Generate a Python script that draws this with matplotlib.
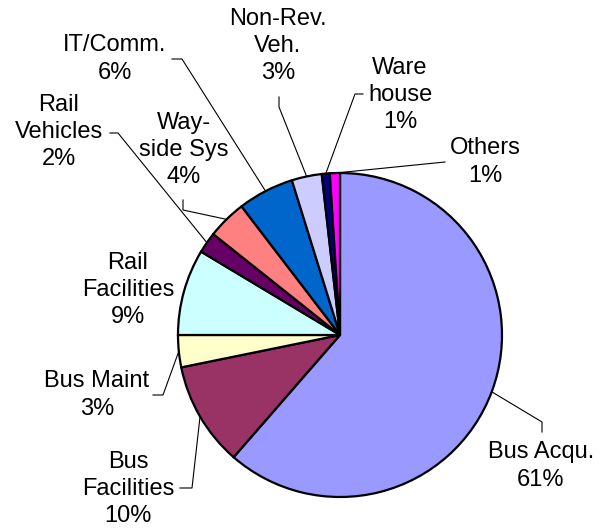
import matplotlib
matplotlib.use("Agg")
import matplotlib.pyplot as plt
import numpy as np

# slice data (clockwise from 12 o'clock)
categories = ["Bus Acqu.", "Bus\nFacilities", "Bus Maint", "Rail\nFacilities",
              "Rail\nVehicles", "Way-\nside Sys", "IT/Comm.", "Non-Rev.\nVeh.",
              "Ware\nhouse", "Others"]
shares = [61.4, 10.4, 3.2, 8.6, 2.1, 3.9, 5.6, 3.0, 0.8, 1.0]
colors = ["#9999FF", "#993366", "#FFFFCC", "#CCFFFF", "#660066",
          "#FF8080", "#0066CC", "#CCCCFF", "#000080", "#FF00FF"]

W, H = 608, 532
cx, cy, R = 340, 335, 162   # pie centre / radius in pixels (y from top)

# label centres (pixels from top-left)
label_pos = [(541, 466), (128, 489), (97, 395), (128, 290), (59, 132),
             (184, 150), (115, 59), (278, 46), (400, 95), (485, 162)]
# leader line: end at the text, and the elbow point (None = no leader)
leader = [((542, 432), (542, 422)), ((180, 488), (192, 488)),
          ((153, 395), (163, 395)), None, ((110, 133), (118, 133)),
          ((183, 200), (183, 210)), ((172, 59), (182, 59)),
          ((279, 97), (279, 107)), ((363, 94), (355, 94)),
          ((445, 162), (440, 162.5))]

fig = plt.figure(figsize=(W / 100, H / 100), dpi=100)
ax = fig.add_axes([0, 0, 1, 1])

wedges, _ = ax.pie(shares, colors=colors, startangle=90, counterclock=False,
                   center=(cx, H - cy), radius=R, frame=False,
                   wedgeprops=dict(edgecolor="black", linewidth=1.6))

total = sum(shares)
for w, name, s, (lx, ly), ld in zip(wedges, categories, shares, label_pos, leader):
    pct = f"{round(s / total * 100):.0f}%"
    ax.text(lx, H - ly, name + "\n" + pct, ha="center", va="center",
            fontsize=17, family="Liberation Sans", linespacing=1.3,
            multialignment="center", color="black")
    if ld is not None:
        ang = np.deg2rad((w.theta1 + w.theta2) / 2)
        rx = cx + R * np.cos(ang)
        ry = (H - cy) + R * np.sin(ang)
        (ax_, ay_), (ex, ey) = ld
        ax.plot([ax_, ex, rx], [H - ay_, H - ey, ry], color="black", lw=0.8,
                zorder=3)

ax.set_xlim(0, W)
ax.set_ylim(0, H)
ax.set_aspect("equal")
ax.axis("off")

fig.savefig("out.png", dpi=100, facecolor="white")
